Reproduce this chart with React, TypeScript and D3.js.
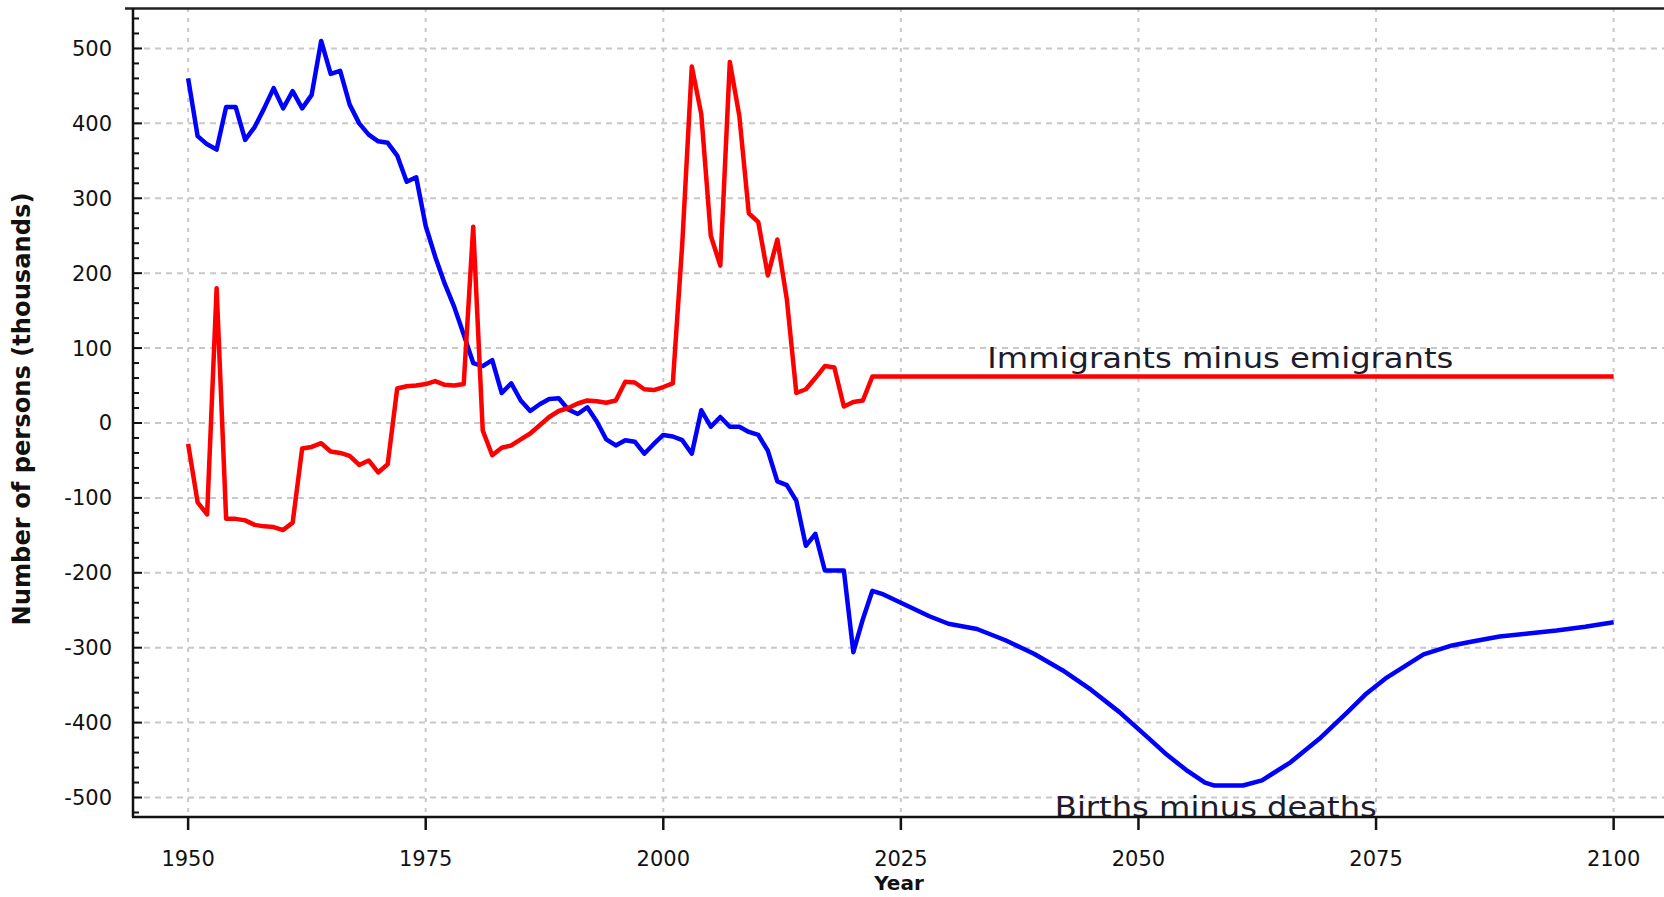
import React, { useEffect, useRef } from 'react';
import * as d3 from 'd3';

// births minus deaths (thousands)
const birthYears = [1950, 1951, 1952, 1953, 1954, 1955, 1956, 1957, 1958, 1959, 1960, 1961, 1962, 1963, 1964, 1965, 1966, 1967, 1968, 1969,
    1970, 1971, 1972, 1973, 1974, 1975, 1976, 1977, 1978, 1979, 1980, 1981, 1982, 1983, 1984, 1985, 1986, 1987, 1988, 1989,
    1990, 1991, 1992, 1993, 1994, 1995, 1996, 1997, 1998, 1999, 2000, 2001, 2002, 2003, 2004, 2005, 2006, 2007, 2008, 2009,
    2010, 2011, 2012, 2013, 2014, 2015, 2016, 2017, 2018, 2019, 2020, 2021, 2022, 2023, 2025, 2028, 2030, 2033, 2036, 2039,
    2042, 2045, 2048, 2051, 2053, 2055, 2057, 2058, 2061, 2063, 2066, 2069, 2072, 2074, 2076, 2078, 2080, 2083, 2085, 2088,
    2091, 2094, 2097, 2100];
const birthValues = [460, 383, 372, 365, 422, 422, 378, 395, 420, 447, 420, 443, 420, 438, 510, 466, 470, 425, 400, 385,
    376, 374, 357, 322, 328, 263, 222, 186, 155, 118, 80, 76, 84, 40, 53, 30, 16, 25, 32, 33,
    18, 12, 21, 2, -22, -30, -23, -25, -41, -28, -16, -18, -23, -41, 17, -5, 8, -5, -5, -12,
    -16, -37, -78, -83, -104, -164, -148, -197, -197, -197, -306, -262, -224, -228, -240, -258, -268, -275, -290, -308,
    -330, -356, -386, -420, -443, -463, -480, -484, -484, -477, -453, -422, -386, -361, -341, -325, -309, -297, -292, -285,
    -281, -277, -272, -266];

// immigrants minus emigrants (thousands)
const migYears = [1950, 1951, 1952, 1953, 1954, 1955, 1956, 1957, 1958, 1959, 1960, 1961, 1962, 1963, 1964, 1965, 1966, 1967, 1968, 1969,
    1970, 1971, 1972, 1973, 1974, 1975, 1976, 1977, 1978, 1979, 1980, 1981, 1982, 1983, 1984, 1985, 1986, 1987, 1988, 1989,
    1990, 1991, 1992, 1993, 1994, 1995, 1996, 1997, 1998, 1999, 2000, 2001, 2002, 2003, 2004, 2005, 2006, 2007, 2008, 2009,
    2010, 2011, 2012, 2013, 2014, 2015, 2016, 2017, 2018, 2019, 2020, 2021, 2022, 2100];
const migValues = [-28, -106, -122, 180, -128, -128, -130, -136, -138, -139, -143, -133, -34, -32, -27, -38, -40, -44, -56, -50,
    -66, -55, 46, 49, 50, 52, 56, 51, 50, 52, 262, -10, -43, -33, -30, -22, -14, -3, 8, 16,
    20, 26, 30, 29, 27, 30, 55, 54, 45, 44, 48, 53, 240, 476, 412, 250, 210, 482, 410, 280,
    268, 197, 245, 165, 40, 45, 60, 76, 74, 22, 28, 30, 62, 62];

const xTicks = [1950, 1975, 2000, 2025, 2050, 2075, 2100];
const yTicks = [-500, -400, -300, -200, -100, 0, 100, 200, 300, 400, 500];

const W = 1664, H = 897;
const FONT = "'DejaVu Sans', Verdana, sans-serif";

export default function App() {
    const ref = useRef<SVGSVGElement>(null);

    useEffect(() => {
        const svg = d3.select(ref.current);
        svg.selectAll('*').remove();

        const left = 133, right = W, top = 8, bottom = 817;
        const x = d3.scaleLinear().domain([1944.2, 2105.3]).range([left, right]);
        const y = d3.scaleLinear().domain([-526, 554]).range([bottom, top]);

        svg.append('defs').append('clipPath').attr('id', 'plot')
            .append('rect').attr('x', left).attr('y', top).attr('width', right - left).attr('height', bottom - top);

        // grid
        svg.append('g').selectAll('line').data(yTicks).enter().append('line')
            .attr('x1', left).attr('x2', right)
            .attr('y1', d => y(d)).attr('y2', d => y(d))
            .attr('stroke', '#c8c8c8').attr('stroke-width', 2).attr('stroke-dasharray', '6,5');
        svg.append('g').selectAll('line').data(xTicks).enter().append('line')
            .attr('x1', d => x(d)).attr('x2', d => x(d))
            .attr('y1', top).attr('y2', bottom)
            .attr('stroke', '#c8c8c8').attr('stroke-width', 2).attr('stroke-dasharray', '4,6');

        const plot = svg.append('g').attr('clip-path', 'url(#plot)');

        const line = d3.line<[number, number]>().x(d => x(d[0])).y(d => y(d[1]));
        const birthPts = birthYears.map((yr, i) => [yr, birthValues[i]] as [number, number]);
        const migPts = migYears.map((yr, i) => [yr, migValues[i]] as [number, number]);

        plot.append('path').attr('d', line(birthPts))
            .attr('fill', 'none').attr('stroke', '#0000ff').attr('stroke-width', 4.5).attr('stroke-linejoin', 'round');
        plot.append('path').attr('d', line(migPts))
            .attr('fill', 'none').attr('stroke', '#ff0000').attr('stroke-width', 4.5).attr('stroke-linejoin', 'round');

        // line labels
        plot.append('text').text('Immigrants minus emigrants')
            .attr('x', x(2034.1)).attr('y', y(73))
            .attr('font-family', FONT).attr('font-size', 29).attr('fill', '#1c1c2c')
            .attr('textLength', 466).attr('lengthAdjust', 'spacingAndGlyphs');
        plot.append('text').text('Births minus deaths')
            .attr('x', x(2041.2)).attr('y', y(-526))
            .attr('font-family', FONT).attr('font-size', 29).attr('fill', '#1c1c2c')
            .attr('textLength', 322).attr('lengthAdjust', 'spacingAndGlyphs');

        // axes lines
        svg.append('line').attr('x1', left - 8).attr('x2', right).attr('y1', top + 0.5).attr('y2', top + 0.5)
            .attr('stroke', '#222').attr('stroke-width', 2.5);
        svg.append('line').attr('x1', left).attr('x2', left).attr('y1', top).attr('y2', bottom)
            .attr('stroke', '#111').attr('stroke-width', 2.5);
        svg.append('line').attr('x1', left - 1).attr('x2', right).attr('y1', bottom).attr('y2', bottom)
            .attr('stroke', '#111').attr('stroke-width', 2.5);

        // y ticks, minor every 20
        const minor = d3.range(-520, 560, 20).filter(v => v % 100 !== 0);
        svg.append('g').selectAll('line').data(minor).enter().append('line')
            .attr('x1', left).attr('x2', left + 6)
            .attr('y1', d => y(d)).attr('y2', d => y(d))
            .attr('stroke', '#111').attr('stroke-width', 2);
        svg.append('g').selectAll('line').data(yTicks).enter().append('line')
            .attr('x1', left).attr('x2', left + 9)
            .attr('y1', d => y(d)).attr('y2', d => y(d))
            .attr('stroke', '#111').attr('stroke-width', 2);
        svg.append('g').selectAll('text').data(yTicks).enter().append('text')
            .attr('x', 112).attr('y', d => y(d) + 7.5)
            .attr('text-anchor', 'end').attr('font-family', FONT).attr('font-size', 21).attr('fill', '#111')
            .text(d => d);

        // x ticks
        svg.append('g').selectAll('line').data(xTicks).enter().append('line')
            .attr('x1', d => x(d)).attr('x2', d => x(d))
            .attr('y1', bottom).attr('y2', bottom + 13)
            .attr('stroke', '#111').attr('stroke-width', 2.5);
        svg.append('g').selectAll('text').data(xTicks).enter().append('text')
            .attr('x', d => x(d)).attr('y', 866)
            .attr('text-anchor', 'middle').attr('font-family', FONT).attr('font-size', 21).attr('fill', '#111')
            .text(d => d);

        // axis titles
        svg.append('text').text('Year')
            .attr('x', 899).attr('y', 890).attr('text-anchor', 'middle')
            .attr('font-family', FONT).attr('font-weight', 'bold').attr('font-size', 20).attr('fill', '#111');
        svg.append('text').text('Number of persons (thousands)')
            .attr('transform', 'translate(30,409) rotate(-90)').attr('text-anchor', 'middle')
            .attr('font-family', FONT).attr('font-weight', 'bold').attr('font-size', 24).attr('fill', '#111')
            .attr('textLength', 433).attr('lengthAdjust', 'spacingAndGlyphs');
    }, []);

    return (
        <svg ref={ref} width={W} height={H}
            style={{ position: 'absolute', left: 0, top: 0, display: 'block', background: '#fff' }} />
    );
}
